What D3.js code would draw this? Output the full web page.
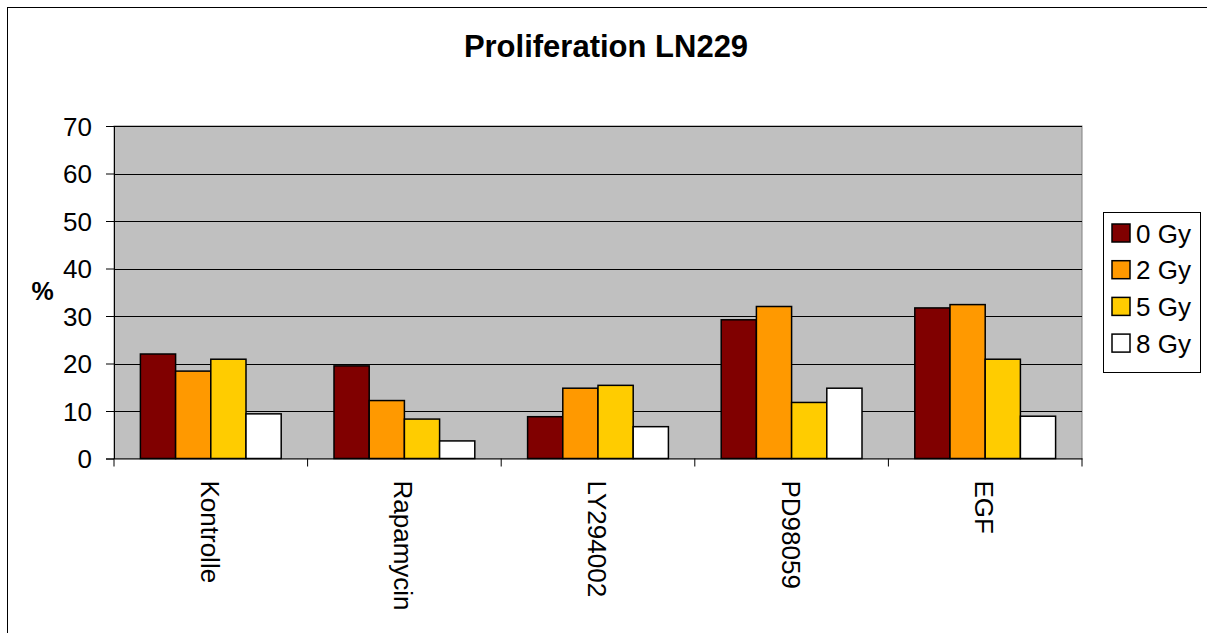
<!DOCTYPE html>
<html><head><meta charset="utf-8">
<script src="https://cdn.jsdelivr.net/npm/d3@7"></script>
<style>body{margin:0;background:#fff}svg{display:block;font-family:"Liberation Sans",Arial,sans-serif}</style>
</head><body>
<svg id="c" width="1207" height="633"></svg>
<script>
const categories = ["Kontrolle","Rapamycin","LY294002","PD98059","EGF"];
const seriesNames = ["0 Gy","2 Gy","5 Gy","8 Gy"];
const colors = ["#800000","#FF9900","#FFCC00","#FFFFFF"];
const s0 = [22.0, 19.5, 8.8, 29.2, 31.7];
const s2 = [18.4, 12.2, 14.8, 32.0, 32.4];
const s5 = [20.9, 8.3, 15.4, 11.8, 20.9];
const s8 = [9.4, 3.7, 6.7, 14.8, 8.9];
const yTicks = [0,10,20,30,40,50,60,70];
const series = [s0,s2,s5,s8];

const svg = d3.select("#c");
const L=114, T=126, R=1082, B=458.5;
const FF = "Liberation Sans, Arial, sans-serif";

svg.append("rect").attr("x",7.5).attr("y",7.5).attr("width",1220).attr("height",640)
  .attr("fill","#fff").attr("stroke","#000").attr("stroke-width",1);

svg.append("text").attr("x",606).attr("y",56.5).attr("text-anchor","middle")
  .attr("font-size",31).attr("font-weight","bold").text("Proliferation LN229");

const x = d3.scaleBand().domain(categories).range([L,R]);
const y = d3.scaleLinear().domain([0,70]).range([B,T]);
const bw = x.bandwidth()/(4+1.5);
const xs = d3.scaleBand().domain(d3.range(4)).range([0,bw*4]);

svg.append("rect").attr("x",L).attr("y",T).attr("width",R-L).attr("height",B-T)
  .attr("fill","#C0C0C0").attr("stroke","#808080").attr("stroke-width",1);

svg.append("g").selectAll("line").data(yTicks.filter(d=>d>0)).join("line")
  .attr("x1",L).attr("x2",R).attr("y1",d=>Math.round(y(d))+0.5).attr("y2",d=>Math.round(y(d))+0.5)
  .attr("stroke","#000").attr("stroke-width",1);

const yAxis = svg.append("g").attr("transform",`translate(${L},0)`)
  .call(d3.axisLeft(y).tickValues(yTicks).tickSize(8).tickPadding(14));
yAxis.select(".domain").attr("stroke","#000");
yAxis.selectAll("text").attr("font-size",26).attr("font-family",FF).attr("fill","#000").attr("dy","0.36em");

svg.append("g").selectAll("g").data(categories).join("g")
  .attr("transform",c=>`translate(${x(c)+bw*0.75},0)`)
  .selectAll("rect").data((c,i)=>series.map((s,j)=>({j,v:s[i]}))).join("rect")
  .attr("x",d=>xs(d.j)).attr("width",xs.bandwidth())
  .attr("y",d=>y(d.v)).attr("height",d=>B-y(d.v))
  .attr("fill",d=>colors[d.j]).attr("stroke","#000").attr("stroke-width",1.5);

const xAxis = svg.append("g").attr("transform",`translate(0,${B})`)
  .call(d3.axisBottom(x).tickSize(0).tickFormat(""));
xAxis.select(".domain").attr("stroke","#000");
svg.append("g").selectAll("line").data(d3.range(categories.length+1)).join("line")
  .attr("x1",i=>L+i*x.step()).attr("x2",i=>L+i*x.step()).attr("y1",B).attr("y2",B+8).attr("stroke","#000");

svg.append("g").selectAll("text").data(categories).join("text")
  .attr("transform",c=>`translate(${x(c)+x.bandwidth()/2-10},${B+22}) rotate(90)`)
  .attr("font-size",26).text(d=>d);

svg.append("text").attr("x",42.5).attr("y",300).attr("text-anchor","middle")
  .attr("font-size",25).attr("font-weight","bold").text("%");

const lg = svg.append("g");
lg.append("rect").attr("x",1103.5).attr("y",212.5).attr("width",97).attr("height",160)
  .attr("fill","#fff").attr("stroke","#000");
const items = lg.selectAll("g").data(seriesNames).join("g")
  .attr("transform",(d,i)=>`translate(1112,${233+i*36.7})`);
items.append("rect").attr("x",0).attr("y",-9).attr("width",18).attr("height",18)
  .attr("fill",(d,i)=>colors[i]).attr("stroke","#000").attr("stroke-width",1.5);
items.append("text").attr("x",24).attr("y",9.5).attr("font-size",26).text(d=>d);
</script>
</body></html>
